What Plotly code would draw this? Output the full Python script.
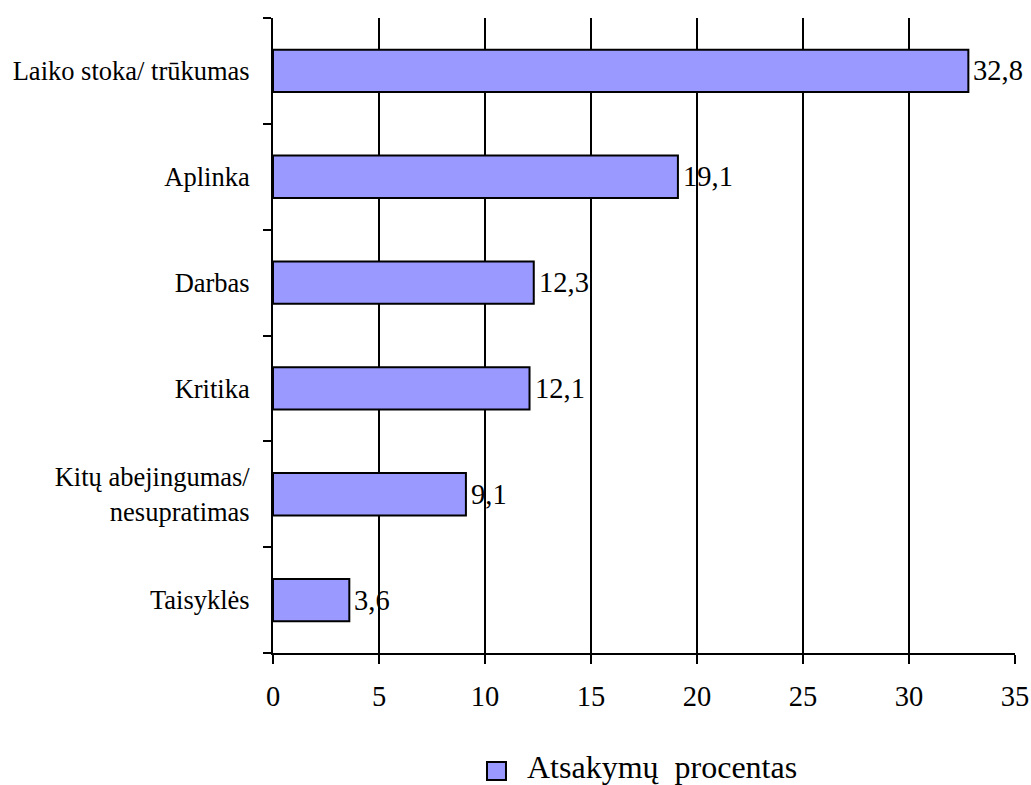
import plotly.graph_objects as go

categories = ["Laiko stoka/ trūkumas", "Aplinka", "Darbas", "Kritika",
              "Kitų abejingumas/<br>nesupratimas", "Taisyklės"]
values = [32.8, 19.1, 12.3, 12.1, 9.1, 3.6]
value_labels = ["32,8", "19,1", "12,3", "12,1", "9,1", "3,6"]
series_name = "Atsakymų  procentas"
x_ticks = [0, 5, 10, 15, 20, 25, 30, 35]

FONT = "Liberation Serif, Times New Roman, serif"
BAR_COLOR = "#9999FF"

fig = go.Figure()
fig.add_trace(go.Bar(
    y=categories, x=values, orientation="h", name=series_name,
    marker=dict(color=BAR_COLOR, line=dict(color="black", width=2)),
    width=0.4, showlegend=False,
))
for c, v, t in zip(categories, values, value_labels):
    fig.add_annotation(x=v, y=c, text=t, showarrow=False, xanchor="left",
                       xshift=3, font=dict(family=FONT, size=28.5, color="black"))

# legend (square + label) below the plot
fig.add_shape(type="rect", xref="paper", yref="paper",
              x0=0.2884, x1=0.3140, y0=-0.2000, y1=-0.1717,
              fillcolor=BAR_COLOR, line=dict(color="black", width=2))
fig.add_annotation(xref="paper", yref="paper", x=0.3396, y=-0.1800,
                   xanchor="left", yanchor="middle", text=series_name,
                   showarrow=False, font=dict(family=FONT, size=32, color="black"))

fig.update_layout(
    width=1031, height=785,
    margin=dict(l=273, r=16, t=18, b=132, autoexpand=False),
    paper_bgcolor="white", plot_bgcolor="white",
    font=dict(family=FONT, color="black"),
    showlegend=False,
    xaxis=dict(range=[0, 35], tickvals=x_ticks, ticks="outside", ticklen=9,
               tickwidth=2, tickcolor="black", showgrid=True, gridcolor="black",
               gridwidth=2, showline=True, linecolor="black", linewidth=2,
               zeroline=False, tickfont=dict(family=FONT, size=28.5),
               ticklabelstandoff=8, automargin=False),
    yaxis=dict(categoryorder="array", categoryarray=categories[::-1],
               ticks="outside", tickson="boundaries", ticklen=8, tickwidth=2,
               tickcolor="black", showline=True, linecolor="black", linewidth=2,
               showgrid=False, tickfont=dict(family=FONT, size=26.5),
               ticklabelstandoff=16, automargin=False),
)
fig.write_html("out.html", config={"displayModeBar": False},
               post_script="document.body.style.margin='0px';document.body.style.overflow='hidden';")
